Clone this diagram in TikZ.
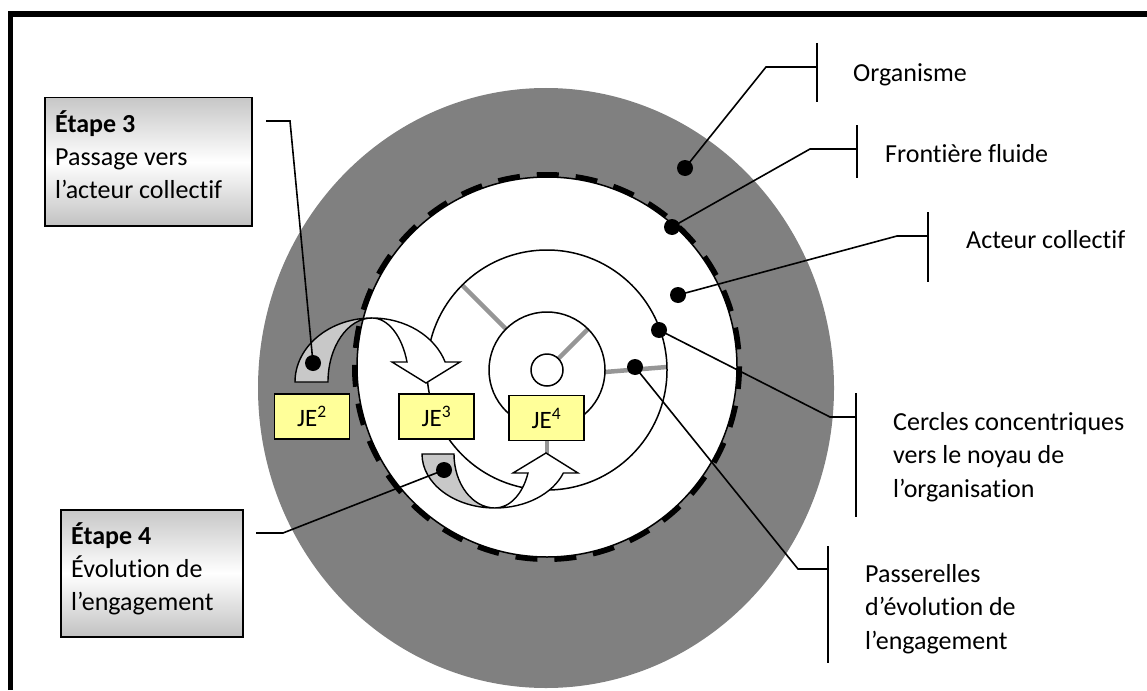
\documentclass[tikz,border=0pt]{standalone}
\usepackage{fontspec}
\setmainfont{Carlito}[Ligatures={NoCommon,NoContextual}]
\definecolor{discgray}{HTML}{808080}
\definecolor{backgray}{HTML}{C8C8C8}
\definecolor{spokegray}{HTML}{969696}
\definecolor{jeyellow}{HTML}{FFFF99}
\begin{document}
\begin{tikzpicture}[x=1pt,y=-1pt,
  outline/.style={draw=black, line width=1.5pt},
  conn/.style={draw=black, line width=1.6pt},
  barline/.style={draw=black, line width=1.7pt},
  pin/.style={circle, fill=black, inner sep=0pt, minimum size=16pt},
  spoke/.style={draw=spokegray, line width=4.5pt},
  lbl/.style={anchor=base west, inner sep=0pt, font=\fontsize{26pt}{33.5pt}\selectfont},
  jebox/.style={draw=black, line width=1.5pt, fill=jeyellow, inner sep=0pt,
    minimum width=75pt, minimum height=45pt, font=\fontsize{25pt}{30pt}\selectfont},
  etapebox/.style={draw=black, line width=1.5pt, inner sep=0pt, anchor=north west,
    top color=black!22, bottom color=black!24, middle color=white},
  backpart/.style={draw=black, line width=1.4pt, fill=backgray},
  frontpart/.style={draw=black, line width=1.4pt, fill=white, line join=miter}
]
\useasboundingbox (0,0) rectangle (1147,690);

% frame
\draw[line width=5.3pt] (10.7,690) -- (10.7,14) -- (1147,14);

% organism
\fill[discgray] (546,388) ellipse[x radius=288, y radius=300];

% collective actor and its fluid border
\draw[outline, fill=white] (547,367) circle[radius=190];
\draw[line width=5pt, dash pattern=on 22pt off 17pt] (547,367) circle[radius=192.5];

% engagement bridges
\draw[spoke] (506,329) -- (462.2,285.2);
\draw[spoke] (558.3,358.7) -- (588,329);
\draw[spoke] (605,372) -- (667,367);
\draw[spoke] (547,428) -- (547,490);

% concentric circles towards the core
\draw[outline] (547,370) circle[radius=120];
\draw[outline] (547,370) circle[radius=58];
\draw[outline, fill=white] (547,370) circle[radius=16];

% curved arrow, step 3
\path[backpart] (295,382)
  arc[start angle=180, end angle=270, x radius=77, y radius=64]
  arc[start angle=270, end angle=180, x radius=44, y radius=64] -- cycle;
\path[frontpart] (372,318)
  arc[start angle=270, end angle=341.8, x radius=77, y radius=64]
  -- (460,362) -- (426,383) -- (392,362) -- (407,362)
  arc[start angle=341.8, end angle=270, x radius=36.8, y radius=64] -- cycle;

% curved arrow, step 4
\path[backpart] (422,454) -- (454,454)
  arc[start angle=180, end angle=90, x radius=41, y radius=54]
  arc[start angle=90, end angle=180, x radius=73, y radius=54] -- cycle;
\path[frontpart] (495,508)
  arc[start angle=90, end angle=20.6, x radius=73, y radius=54]
  -- (578,473) -- (546,453) -- (513,473) -- (528,473)
  arc[start angle=20.6, end angle=90, x radius=35.3, y radius=54] -- cycle;

% engagement levels
\node[jebox] (je2) at (312,416.5) {JE\textsuperscript{2}};
\node[jebox] (je3) at (436.5,416.5) {JE\textsuperscript{3}};
\node[jebox] (je4) at (546.5,418) {JE\textsuperscript{4}};

% step boxes
\node[etapebox, minimum width=207pt, minimum height=128pt] (e3) at (44,97) {};
\node[lbl] (e3a) at (55,132) {\bfseries Étape 3};
\node[lbl] (e3b) at (55,165) {Passage vers};
\node[lbl] (e3c) at (55,198) {l’acteur collectif};

\node[etapebox, minimum width=182pt, minimum height=127pt] (e4) at (60,509) {};
\node[lbl] (e4a) at (71,544) {\bfseries Étape 4};
\node[lbl] (e4b) at (71,577) {Évolution de};
\node[lbl] (e4c) at (71,610) {l’engagement};

% pins
\node[pin] (p3) at (313,363) {};
\node[pin] (p4) at (444,470) {};
\node[pin] (pOrg) at (685,168) {};
\node[pin] (pFro) at (672,227) {};
\node[pin] (pAct) at (678,295) {};
\node[pin] (pCer) at (659,330) {};
\node[pin] (pPas) at (635,367) {};

% callout lines
\coordinate (s3) at (266,121); \coordinate (k3) at (290,121);
\draw[conn] (s3) -- (k3) -- (p3.center);
\coordinate (s4) at (256,533); \coordinate (k4) at (283,533);
\draw[conn] (s4) -- (k4) -- (p4.center);

\coordinate (kOrg) at (766,67);  \coordinate (mOrg) at (817,67);
\coordinate (tOrg) at (817,43);  \coordinate (bOrg) at (817,102);
\draw[conn] (pOrg.center) -- (kOrg) -- (mOrg);
\draw[barline] (tOrg) -- (bOrg);

\coordinate (kFro) at (810,149); \coordinate (mFro) at (857,149);
\coordinate (tFro) at (857,125); \coordinate (bFro) at (857,178);
\draw[conn] (pFro.center) -- (kFro) -- (mFro);
\draw[barline] (tFro) -- (bFro);

\coordinate (kAct) at (897,236); \coordinate (mAct) at (928,236);
\coordinate (tAct) at (928,212); \coordinate (bAct) at (928,282);
\draw[conn] (pAct.center) -- (kAct) -- (mAct);
\draw[barline] (tAct) -- (bAct);

\coordinate (kCer) at (830,417); \coordinate (mCer) at (856,417);
\coordinate (tCer) at (856,393); \coordinate (bCer) at (856,517);
\draw[conn] (pCer.center) -- (kCer) -- (mCer);
\draw[barline] (tCer) -- (bCer);

\coordinate (kPas) at (798,569); \coordinate (mPas) at (828,569);
\coordinate (tPas) at (828,546); \coordinate (bPas) at (828,663);
\draw[conn] (pPas.center) -- (kPas) -- (mPas);
\draw[barline] (tPas) -- (bPas);

% labels
\node[lbl] (lOrg) at (853,82) {Organisme};
\node[lbl] (lFro) at (885,162) {Frontière fluide};
\node[lbl] (lAct) at (966,248) {Acteur collectif};
\node[lbl] (lCer1) at (893,430) {Cercles concentriques};
\node[lbl] (lCer2) at (893,463.5) {vers le noyau de};
\node[lbl] (lCer3) at (893,497) {l’organisation};
\node[lbl] (lPas1) at (865,582) {Passerelles};
\node[lbl] (lPas2) at (865,615.5) {d’évolution de};
\node[lbl] (lPas3) at (865,649) {l’engagement};
\end{tikzpicture}
\end{document}
